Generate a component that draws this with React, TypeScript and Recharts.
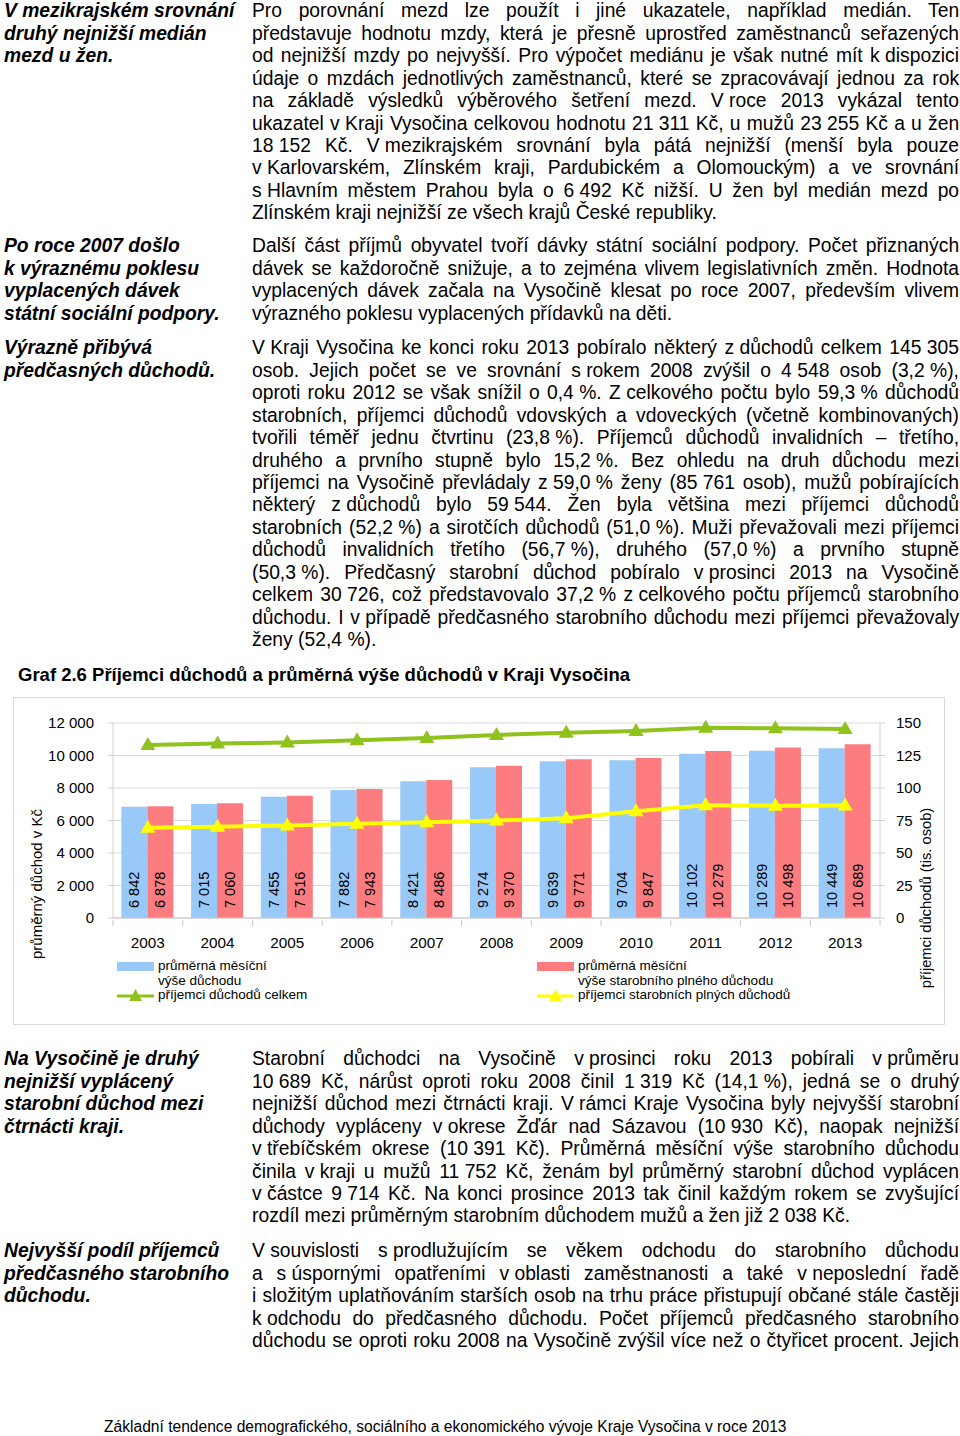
import {
  Bar,
  CartesianGrid,
  ComposedChart,
  LabelList,
  Line,
  XAxis,
  YAxis,
} from 'recharts';

// chart data
const years = ['2003', '2004', '2005', '2006', '2007', '2008', '2009', '2010', '2011', '2012', '2013'];
const avgPension = [6842, 7015, 7455, 7882, 8421, 9274, 9639, 9704, 10102, 10289, 10449];
const avgOldAgePension = [6878, 7060, 7516, 7943, 8486, 9370, 9771, 9847, 10279, 10498, 10689];
const recipientsTotal = [133.0, 134.2, 135.0, 136.8, 138.5, 140.8, 142.5, 143.8, 146.3, 145.9, 145.3];
const recipientsOldAge = [69.4, 70.2, 71.2, 72.5, 73.7, 75.0, 76.7, 82.1, 86.7, 86.4, 86.5];
const leftTicks = [0, 2000, 4000, 6000, 8000, 10000, 12000];
const rightTicks = [0, 25, 50, 75, 100, 125, 150];

const data = years.map((year, i) => ({
  year,
  avg: avgPension[i],
  avgOld: avgOldAgePension[i],
  total: recipientsTotal[i],
  old: recipientsOldAge[i],
}));

// page text, one entry per printed line
const p1 = [
  'Pro porovnání mezd lze použít i jiné ukazatele, například medián. Ten',
  'představuje hodnotu mzdy, která je přesně uprostřed zaměstnanců seřazených',
  'od nejnižší mzdy po nejvyšší. Pro výpočet mediánu je však nutné mít k dispozici',
  'údaje o mzdách jednotlivých zaměstnanců, které se zpracovávají jednou za rok',
  'na základě výsledků výběrového šetření mezd. V roce 2013 vykázal tento',
  'ukazatel v Kraji Vysočina celkovou hodnotu 21 311 Kč, u mužů 23 255 Kč a u žen',
  '18 152 Kč. V mezikrajském srovnání byla pátá nejnižší (menší byla pouze',
  'v Karlovarském, Zlínském kraji, Pardubickém a Olomouckým) a ve srovnání',
  's Hlavním městem Prahou byla o 6 492 Kč nižší. U žen byl medián mezd po',
  'Zlínském kraji nejnižší ze všech krajů České republiky.',
];
const p2 = [
  'Další část příjmů obyvatel tvoří dávky státní sociální podpory. Počet přiznaných',
  'dávek se každoročně snižuje, a to zejména vlivem legislativních změn. Hodnota',
  'vyplacených dávek začala na Vysočině klesat po roce 2007, především vlivem',
  'výrazného poklesu vyplacených přídavků na děti.',
];
const p3 = [
  'V Kraji Vysočina ke konci roku 2013 pobíralo některý z důchodů celkem 145 305',
  'osob. Jejich počet se ve srovnání s rokem 2008 zvýšil o 4 548 osob (3,2 %),',
  'oproti roku 2012 se však snížil o 0,4 %. Z celkového počtu bylo 59,3 % důchodů',
  'starobních, příjemci důchodů vdovských a vdoveckých (včetně kombinovaných)',
  'tvořili téměř jednu čtvrtinu (23,8 %). Příjemců důchodů invalidních – třetího,',
  'druhého a prvního stupně bylo 15,2 %. Bez ohledu na druh důchodu mezi',
  'příjemci na Vysočině převládaly z 59,0 % ženy (85 761 osob), mužů pobírajících',
  'některý z důchodů bylo 59 544. Žen byla většina mezi příjemci důchodů',
  'starobních (52,2 %) a sirotčích důchodů (51,0 %). Muži převažovali mezi příjemci',
  'důchodů invalidních třetího (56,7 %), druhého (57,0 %) a prvního stupně',
  '(50,3 %). Předčasný starobní důchod pobíralo v prosinci 2013 na Vysočině',
  'celkem 30 726, což představovalo 37,2 % z celkového počtu příjemců starobního',
  'důchodu. I v případě předčasného starobního důchodu mezi příjemci převažovaly',
  'ženy (52,4 %).',
];
const p4 = [
  'Starobní důchodci na Vysočině v prosinci roku 2013 pobírali v průměru',
  '10 689 Kč, nárůst oproti roku 2008 činil 1 319 Kč (14,1 %), jedná se o druhý',
  'nejnižší důchod mezi čtrnácti kraji. V rámci Kraje Vysočina byly nejvyšší starobní',
  'důchody vypláceny v okrese Žďár nad Sázavou (10 930 Kč), naopak nejnižší',
  'v třebíčském okrese (10 391 Kč). Průměrná měsíční výše starobního důchodu',
  'činila v kraji u mužů 11 752 Kč, ženám byl průměrný starobní důchod vyplácen',
  'v částce 9 714 Kč. Na konci prosince 2013 tak činil každým rokem se zvyšující',
  'rozdíl mezi průměrným starobním důchodem mužů a žen již 2 038 Kč.',
];
const p5 = [
  'V souvislosti s prodlužujícím se věkem odchodu do starobního důchodu',
  'a s úspornými opatřeními v oblasti zaměstnanosti a také v neposlední řadě',
  'i složitým uplatňováním starších osob na trhu práce přistupují občané stále častěji',
  'k odchodu do předčasného důchodu. Počet příjemců předčasného starobního',
  'důchodu se oproti roku 2008 na Vysočině zvýšil více než o čtyřicet procent. Jejich',
];

const notes = [
  { top: 11, lines: ['V mezikrajském srovnání', 'druhý nejnižší medián', 'mezd u žen.'] },
  { top: 246, lines: ['Po roce 2007 došlo', 'k výraznému poklesu', 'vyplacených dávek', 'státní sociální podpory.'] },
  { top: 348, lines: ['Výrazně přibývá', 'předčasných důchodů.'] },
  { top: 1059, lines: ['Na Vysočině je druhý', 'nejnižší vyplácený', 'starobní důchod mezi', 'čtrnácti kraji.'] },
  { top: 1251, lines: ['Nejvyšší podíl příjemců', 'předčasného starobního', 'důchodu.'] },
];

const paragraphs = [
  { top: 11, lines: p1, lastJustified: false },
  { top: 246, lines: p2, lastJustified: false },
  { top: 348, lines: p3, lastJustified: false },
  { top: 1059, lines: p4, lastJustified: false },
  { top: 1251, lines: p5, lastJustified: true },
];

const LINE = 22.45;
const BODY = 19.3;
const FONT = 'Arial, "Liberation Sans", sans-serif';
const BLUE = '#99c9f9';
const RED = '#fc7c80';
const GREEN = '#8fc21c';
const YELLOW = '#ffff00';

const fmt = (v: number) => String(v).replace(/\B(?=(\d{3})+(?!\d))/g, ' ');

// glue one-letter prepositions and number groups so justify does not stretch them
function glue(line: string) {
  const words = line.split(' ');
  const groups: string[][] = [];
  words.forEach((w, i) => {
    const prev = words[i - 1];
    const bind =
      groups.length > 0 &&
      (/^[vVsSkKzZ]$/.test(prev) || (/\d$/.test(prev) && /^\d{3}/.test(w)) || /^%/.test(w));
    if (bind) groups[groups.length - 1].push(w);
    else groups.push([w]);
  });
  return groups.map((g, i) => (
    <span key={i}>
      {i > 0 ? ' ' : ''}
      {g.length > 1 ? <span style={{ display: 'inline-block', whiteSpace: 'pre' }}>{g.join(' ')}</span> : g[0]}
    </span>
  ));
}

function Triangle({ cx, cy, fill }: { cx?: number; cy?: number; fill: string }) {
  if (cx == null || cy == null) return null;
  return <path d={`M${cx},${cy - 8} L${cx - 7.5},${cy + 5} L${cx + 7.5},${cy + 5} Z`} fill={fill} />;
}

function BarValue(props: any) {
  const { x, y, width, height, value } = props;
  const tx = x + width / 2;
  const ty = y + height - 10;
  return (
    <text
      x={tx}
      y={ty}
      transform={`rotate(-90, ${tx}, ${ty})`}
      textAnchor="start"
      dominantBaseline="central"
      fontSize={14.5}
      fontFamily={FONT}
      fill="#000"
    >
      {fmt(value)}
    </text>
  );
}

function YearTick(props: any) {
  const { x, y, payload, width, visibleTicksCount } = props;
  const band = width / visibleTicksCount;
  return (
    <g>
      <line x1={x - band / 2} y1={y - 6} x2={x - band / 2} y2={y} stroke="#c8c8c8" />
      {payload.index === visibleTicksCount - 1 && (
        <line x1={x + band / 2} y1={y - 6} x2={x + band / 2} y2={y} stroke="#c8c8c8" />
      )}
      <text x={x} y={y + 22} textAnchor="middle" fontSize={15.3} fontFamily={FONT} fill="#000">
        {payload.value}
      </text>
    </g>
  );
}

function TextLine({ text, top, left, width, justify }: { text: string; top: number; left: number; width: number; justify: boolean }) {
  return (
    <div
      style={{
        position: 'absolute',
        top,
        left,
        width,
        height: LINE,
        lineHeight: `${LINE}px`,
        fontSize: BODY,
        fontFamily: FONT,
        color: '#000',
        whiteSpace: 'nowrap',
        textAlign: justify ? 'justify' : 'left',
        textAlignLast: justify ? 'justify' : 'left',
      }}
    >
      {glue(text)}
    </div>
  );
}

function LegendItem({ left, top, kind, color, lines }: { left: number; top: number; kind: 'bar' | 'line'; color: string; lines: string[] }) {
  return (
    <div style={{ position: 'absolute', left, top, fontFamily: FONT, fontSize: 13.5, color: '#000' }}>
      <svg width={38} height={14} style={{ position: 'absolute', left: 0, top: 0 }}>
        {kind === 'bar' ? (
          <rect x={0} y={2} width={37} height={9} fill={color} />
        ) : (
          <g>
            <line x1={0} y1={7} x2={37} y2={7} stroke={color} strokeWidth={3} />
            <path d="M18.5,0 L12,12 L25,12 Z" fill={color} />
          </g>
        )}
      </svg>
      {lines.map((l, i) => (
        <div key={i} style={{ position: 'absolute', left: 41, top: i * 14.5 - 2, whiteSpace: 'nowrap', lineHeight: '16px' }}>
          {l}
        </div>
      ))}
    </div>
  );
}

export default function App() {
  return (
    <div style={{ position: 'relative', width: 960, height: 1436, background: '#fff', overflow: 'hidden' }}>
      <style>{'body{margin:0}'}</style>

      {notes.map((n, k) =>
        n.lines.map((l, i) => (
          <div
            key={`${k}-${i}`}
            style={{
              position: 'absolute',
              left: 4,
              top: n.top - LINE / 2 + i * LINE + 0.5,
              lineHeight: `${LINE}px`,
              fontSize: BODY,
              fontWeight: 'bold',
              fontStyle: 'italic',
              fontFamily: FONT,
              whiteSpace: 'nowrap',
            }}
          >
            {l}
          </div>
        )),
      )}

      {paragraphs.map((p, k) =>
        p.lines.map((l, i) => (
          <TextLine
            key={`${k}-${i}`}
            text={l}
            top={p.top - LINE / 2 + i * LINE + 0.5}
            left={252}
            width={707}
            justify={i < p.lines.length - 1 || p.lastJustified}
          />
        )),
      )}

      <div
        style={{
          position: 'absolute',
          left: 18,
          top: 675 - LINE / 2,
          lineHeight: `${LINE}px`,
          fontSize: 18.5,
          fontWeight: 'bold',
          fontFamily: FONT,
          whiteSpace: 'nowrap',
        }}
      >
        Graf 2.6 Příjemci důchodů a průměrná výše důchodů v Kraji Vysočina
      </div>

      <div
        style={{
          position: 'absolute',
          left: 13,
          top: 697,
          width: 932,
          height: 328,
          border: '1px solid #d9d9d9',
          boxSizing: 'border-box',
        }}
      >
        <ComposedChart
          width={930}
          height={326}
          data={data}
          margin={{ top: 25, right: 20, bottom: 76, left: 0 }}
          barCategoryGap="12%"
          barGap={0}
        >
          <CartesianGrid yAxisId="left" vertical={false} stroke="#d9d9d9" />
          <XAxis
            dataKey="year"
            stroke="#c8c8c8"
            tickLine={false}
            tick={<YearTick />}
            height={30}
            interval={0}
          />
          <YAxis
            yAxisId="left"
            domain={[0, 12000]}
            ticks={leftTicks}
            width={99}
            stroke="#d0d0d0"
            tickSize={5}
            tickMargin={14}
            tickFormatter={fmt}
            tick={{ fill: '#000', fontSize: 15, fontFamily: FONT }}
          />
          <YAxis
            yAxisId="right"
            orientation="right"
            domain={[0, 150]}
            ticks={rightTicks}
            width={44}
            stroke="#d0d0d0"
            tickSize={5}
            tickMargin={11}
            tick={{ fill: '#000', fontSize: 15, fontFamily: FONT, textAnchor: 'start' }}
          />
          <Bar yAxisId="left" dataKey="avg" fill={BLUE} isAnimationActive={false}>
            <LabelList dataKey="avg" content={<BarValue />} />
          </Bar>
          <Bar yAxisId="left" dataKey="avgOld" fill={RED} isAnimationActive={false}>
            <LabelList dataKey="avgOld" content={<BarValue />} />
          </Bar>
          <Line
            yAxisId="right"
            dataKey="total"
            stroke={GREEN}
            strokeWidth={4}
            dot={(p: any) => <Triangle key={`g${p.index}`} cx={p.cx} cy={p.cy} fill={GREEN} />}
            activeDot={false}
            isAnimationActive={false}
          />
          <Line
            yAxisId="right"
            dataKey="old"
            stroke={YELLOW}
            strokeWidth={4}
            dot={(p: any) => <Triangle key={`y${p.index}`} cx={p.cx} cy={p.cy} fill={YELLOW} />}
            activeDot={false}
            isAnimationActive={false}
          />
        </ComposedChart>

        <div
          style={{
            position: 'absolute',
            left: 22,
            top: 186,
            transform: 'translate(-50%, -50%) rotate(-90deg)',
            fontFamily: FONT,
            fontSize: 15,
            whiteSpace: 'nowrap',
          }}
        >
          průměrný důchod v Kč
        </div>
        <div
          style={{
            position: 'absolute',
            left: 912,
            top: 200,
            transform: 'translate(-50%, -50%) rotate(-90deg)',
            fontFamily: FONT,
            fontSize: 14.7,
            whiteSpace: 'nowrap',
          }}
        >
          příjemci důchodů (tis. osob)
        </div>

        <LegendItem left={103} top={262} kind="bar" color={BLUE} lines={['průměrná měsíční', 'výše důchodu']} />
        <LegendItem left={103} top={291} kind="line" color={GREEN} lines={['příjemci důchodů celkem']} />
        <LegendItem left={523} top={262} kind="bar" color={RED} lines={['průměrná měsíční', 'výše starobního plného důchodu']} />
        <LegendItem left={523} top={291} kind="line" color={YELLOW} lines={['příjemci starobních plných důchodů']} />
      </div>

      <div
        style={{
          position: 'absolute',
          left: 104,
          top: 1417,
          fontFamily: FONT,
          fontSize: 15.6,
          whiteSpace: 'nowrap',
          lineHeight: '20px',
        }}
      >
        Základní tendence demografického, sociálního a ekonomického vývoje Kraje Vysočina v roce 2013
      </div>
    </div>
  );
}
